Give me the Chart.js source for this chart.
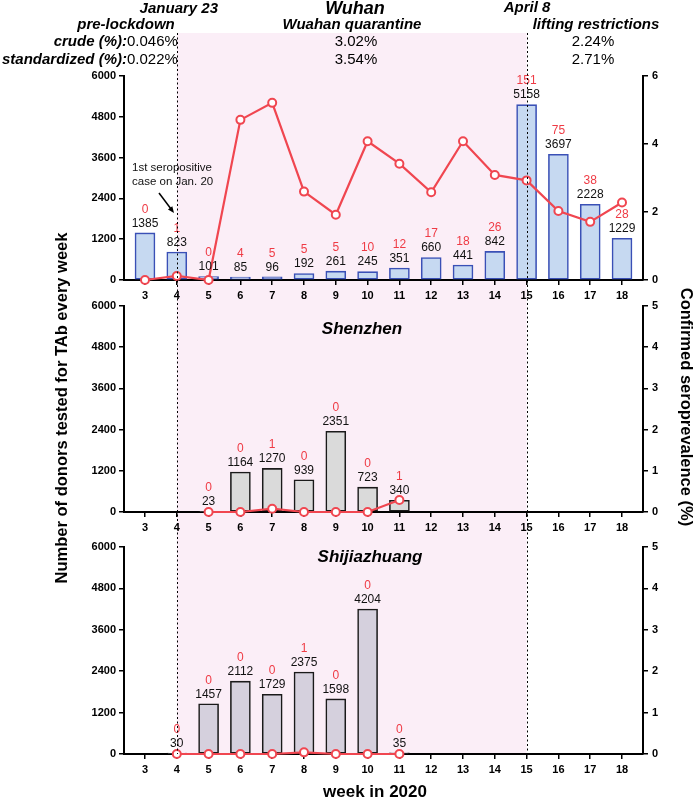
<!DOCTYPE html>
<html>
<head>
<meta charset="utf-8">
<script src="https://cdn.jsdelivr.net/npm/chart.js@4/dist/chart.umd.min.js"></script>
<style>
html,body{margin:0;padding:0;background:#fff;}
#wrap{position:relative;width:697px;height:799px;overflow:hidden;}
canvas{position:absolute;left:0;top:0;}
</style>
</head>
<body>
<div id="wrap">
<canvas id="c1" width="697" height="799"></canvas>
<canvas id="c2" width="697" height="799"></canvas>
<canvas id="c3" width="697" height="799"></canvas>
</div>
<script>
// ---------------- data ----------------
const weeks = [3,4,5,6,7,8,9,10,11,12,13,14,15,16,17,18];

const wuhanWeeks    = [3,4,5,6,7,8,9,10,11,12,13,14,15,16,17,18];
const wuhanTested   = [1385,823,101,85,96,192,261,245,351,660,441,842,5158,3697,2228,1229];
const wuhanPositive = [0,1,0,4,5,5,5,10,12,17,18,26,151,75,38,28];
const wuhanPrev     = [0,0.12,0,4.71,5.21,2.60,1.92,4.08,3.42,2.58,4.08,3.09,2.93,2.03,1.71,2.28];

const shenzhenWeeks    = [5,6,7,8,9,10,11];
const shenzhenTested   = [23,1164,1270,939,2351,723,340];
const shenzhenPositive = [0,0,1,0,0,0,1];
const shenzhenPrev     = [0,0,0.08,0,0,0,0.29];

const sjzWeeks    = [4,5,6,7,8,9,10,11];
const sjzTested   = [30,1457,2112,1729,2375,1598,4204,35];
const sjzPositive = [0,0,0,0,1,0,0,0];
const sjzPrev     = [0,0,0,0,0.04,0,0,0];

const lockdownWeek = 4;
const liftWeek = 15;

// ---------------- styles ----------------
const FONT = '"Liberation Sans", Arial, Helvetica, sans-serif';
const RED = '#ef3b45';
const LINE = '#f04650';
const PINK = '#fbeef7';
const tickFont = {family: FONT, size: 11, weight: 'bold'};

function xScale() {
  return {
    type: 'linear', position: 'bottom', min: 2.34, max: 18.66,
    offset: false,
    afterBuildTicks: s => { s.ticks = weeks.map(v => ({value: v})); },
    afterFit: s => { s.height = 20; },
    border: {display: true, color: '#000', width: 2},
    grid: {display: true, drawOnChartArea: false, drawTicks: true, tickLength: 5, color: '#000', lineWidth: 1.5, offset: false},
    ticks: {font: tickFont, color: '#000', padding: 4, autoSkip: false, maxRotation: 0, callback: v => String(v)}
  };
}
function yLeft() {
  return {
    type: 'linear', position: 'left', min: 0, max: 6000,
    afterFit: s => { s.width = 40; },
    border: {display: true, color: '#000', width: 2},
    grid: {display: true, drawOnChartArea: false, drawTicks: true, tickLength: 5, color: '#000', lineWidth: 1.5},
    ticks: {stepSize: 1200, font: tickFont, color: '#000', padding: 3, callback: v => String(v)}
  };
}
function yRight(max, step) {
  return {
    type: 'linear', position: 'right', min: 0, max: max,
    afterFit: s => { s.width = 30; },
    border: {display: true, color: '#000', width: 2},
    grid: {display: true, drawOnChartArea: false, drawTicks: true, tickLength: 5, color: '#000', lineWidth: 1.5},
    ticks: {stepSize: step, font: tickFont, color: '#000', padding: 4, callback: v => String(v)}
  };
}

function labelPlugin(ws, tested, pos) {
  return {
    id: 'barLabels',
    afterDatasetsDraw(chart) {
      const {ctx} = chart; const x = chart.scales.x, y = chart.scales.y;
      ctx.save();
      ctx.font = '12px ' + FONT;
      ctx.textAlign = 'center'; ctx.textBaseline = 'middle';
      ws.forEach((w, i) => {
        const px = x.getPixelForValue(w), py = y.getPixelForValue(tested[i]);
        ctx.fillStyle = '#111';
        ctx.fillText(String(tested[i]), px, py - 9.5);
        ctx.fillStyle = RED;
        ctx.fillText(String(pos[i]), px, py - 23.5);
      });
      ctx.restore();
    }
  };
}

function panelTitle(text, cx, cy) {
  return {
    id: 'panelTitle',
    afterDraw(chart) {
      const ctx = chart.ctx;
      ctx.save();
      ctx.font = 'italic bold 17px ' + FONT;
      ctx.fillStyle = '#000'; ctx.textAlign = 'center'; ctx.textBaseline = 'middle';
      ctx.fillText(text, cx, cy);
      ctx.restore();
    }
  };
}

function makeChart(id, ws, tested, pos, prev, rMax, rStep, fill, border, padTop, padBottom, plugins) {
  return new Chart(document.getElementById(id), {
    type: 'bar',
    data: {
      datasets: [
        {
          type: 'line', yAxisID: 'y1', order: 1,
          data: ws.map((w, i) => ({x: w, y: prev[i]})),
          borderColor: LINE, borderWidth: 2.2, tension: 0, clip: false,
          pointRadius: 4, pointBackgroundColor: '#fff', pointBorderColor: LINE, pointBorderWidth: 2
        },
        {
          type: 'bar', yAxisID: 'y', order: 2,
          data: ws.map((w, i) => ({x: w, y: tested[i]})),
          backgroundColor: fill, borderColor: border, borderWidth: 1.6,
          barThickness: 20, borderSkipped: false
        }
      ]
    },
    options: {
      responsive: false, animation: false, devicePixelRatio: 1, events: [],
      layout: {padding: {left: 84, right: 24, top: padTop, bottom: padBottom}},
      plugins: {legend: {display: false}, tooltip: {enabled: false}},
      scales: {x: xScale(), y: yLeft(), y1: yRight(rMax, rStep)}
    },
    plugins: [labelPlugin(ws, tested, pos)].concat(plugins || [])
  });
}

// ---------------- decorations ----------------
const backgroundPlugin = {
  id: 'bg',
  beforeDraw(chart) {
    const ctx = chart.ctx, x = chart.scales.x;
    const x0 = x.getPixelForValue(lockdownWeek), x1 = x.getPixelForValue(liftWeek);
    ctx.save();
    ctx.fillStyle = PINK;
    ctx.fillRect(x0, 33, x1 - x0, 754 - 33);
    ctx.restore();
  },
  afterDraw(chart) {
    const ctx = chart.ctx;
    ctx.save();
    ctx.fillStyle = '#000';
    ctx.textBaseline = 'middle';
    // header row 1
    ctx.font = 'italic bold 15px ' + FONT;
    ctx.textAlign = 'right'; ctx.fillText('January 23', 218, 9);
    ctx.textAlign = 'center'; ctx.fillText('April 8', 527, 8);
    ctx.font = 'italic bold 18px ' + FONT;
    ctx.fillText('Wuhan', 355, 9);
    // header row 2
    ctx.font = 'italic bold 15px ' + FONT;
    ctx.textAlign = 'center';
    ctx.fillText('pre-lockdown', 126, 25);
    ctx.fillText('Wuahan quarantine', 352, 25);
    ctx.fillText('lifting restrictions', 596, 25);
    // crude / standardized
    ctx.textAlign = 'right';
    ctx.fillText('crude (%):', 127, 42);
    ctx.fillText('standardized (%):', 127, 60);
    ctx.font = '15px ' + FONT;
    ctx.textAlign = 'left';
    ctx.fillText('0.046%', 127, 42);
    ctx.fillText('0.022%', 127, 60);
    ctx.textAlign = 'center';
    ctx.fillText('3.02%', 356, 42);
    ctx.fillText('3.54%', 356, 60);
    ctx.fillText('2.24%', 593, 42);
    ctx.fillText('2.71%', 593, 60);
    // axis titles
    ctx.font = 'bold 16.5px ' + FONT;
    ctx.save();
    ctx.translate(62, 408); ctx.rotate(-Math.PI / 2);
    ctx.fillText('Number of donors tested for TAb every week', 0, 0);
    ctx.restore();
    ctx.save();
    ctx.translate(686, 407); ctx.rotate(Math.PI / 2);
    ctx.fillText('Confirmed seroprevalence (%)', 0, 0);
    ctx.restore();
    // annotation
    ctx.font = '11.5px ' + FONT;
    ctx.textAlign = 'left';
    ctx.fillStyle = '#111';
    ctx.fillText('1st seropositive', 132, 168);
    ctx.fillText('case on Jan. 20', 132, 182);
    const ax0 = 159, ay0 = 193, ax1 = 174, ay1 = 213;
    ctx.strokeStyle = '#000'; ctx.lineWidth = 1.5;
    ctx.beginPath(); ctx.moveTo(ax0, ay0); ctx.lineTo(ax1 - 2, ay1 - 2.7); ctx.stroke();
    const ang = Math.atan2(ay1 - ay0, ax1 - ax0);
    ctx.fillStyle = '#000';
    ctx.beginPath();
    ctx.moveTo(ax1, ay1);
    ctx.lineTo(ax1 - 7 * Math.cos(ang - 0.4), ay1 - 7 * Math.sin(ang - 0.4));
    ctx.lineTo(ax1 - 7 * Math.cos(ang + 0.4), ay1 - 7 * Math.sin(ang + 0.4));
    ctx.closePath(); ctx.fill();
    ctx.restore();
  }
};

const overlayPlugin = {
  id: 'overlay',
  afterDraw(chart) {
    const ctx = chart.ctx, x = chart.scales.x;
    ctx.save();
    ctx.strokeStyle = '#000'; ctx.lineWidth = 1; ctx.setLineDash([2, 2.5]);
    [lockdownWeek, liftWeek].forEach(w => {
      const px = Math.round(x.getPixelForValue(w)) + 0.5;
      ctx.beginPath(); ctx.moveTo(px, 33); ctx.lineTo(px, chart.chartArea.bottom); ctx.stroke();
    });
    ctx.setLineDash([]);
    ctx.font = 'bold 17px ' + FONT;
    ctx.fillStyle = '#000'; ctx.textAlign = 'center'; ctx.textBaseline = 'middle';
    ctx.fillText('week in 2020', 375, 792);
    ctx.restore();
  }
};

makeChart('c1', wuhanWeeks, wuhanTested, wuhanPositive, wuhanPrev, 6, 2,
  '#c6d9f1', '#3a50b6', 76, 799 - 280 - 20, [backgroundPlugin]);
makeChart('c2', shenzhenWeeks, shenzhenTested, shenzhenPositive, shenzhenPrev, 5, 1,
  '#dadada', '#1a1a1a', 306, 799 - 512 - 20, [panelTitle('Shenzhen', 362, 329)]);
makeChart('c3', sjzWeeks, sjzTested, sjzPositive, sjzPrev, 5, 1,
  '#d5d0dd', '#1a1a1a', 547, 799 - 754 - 20, [panelTitle('Shijiazhuang', 370, 557), overlayPlugin]);
</script>
</body>
</html>
